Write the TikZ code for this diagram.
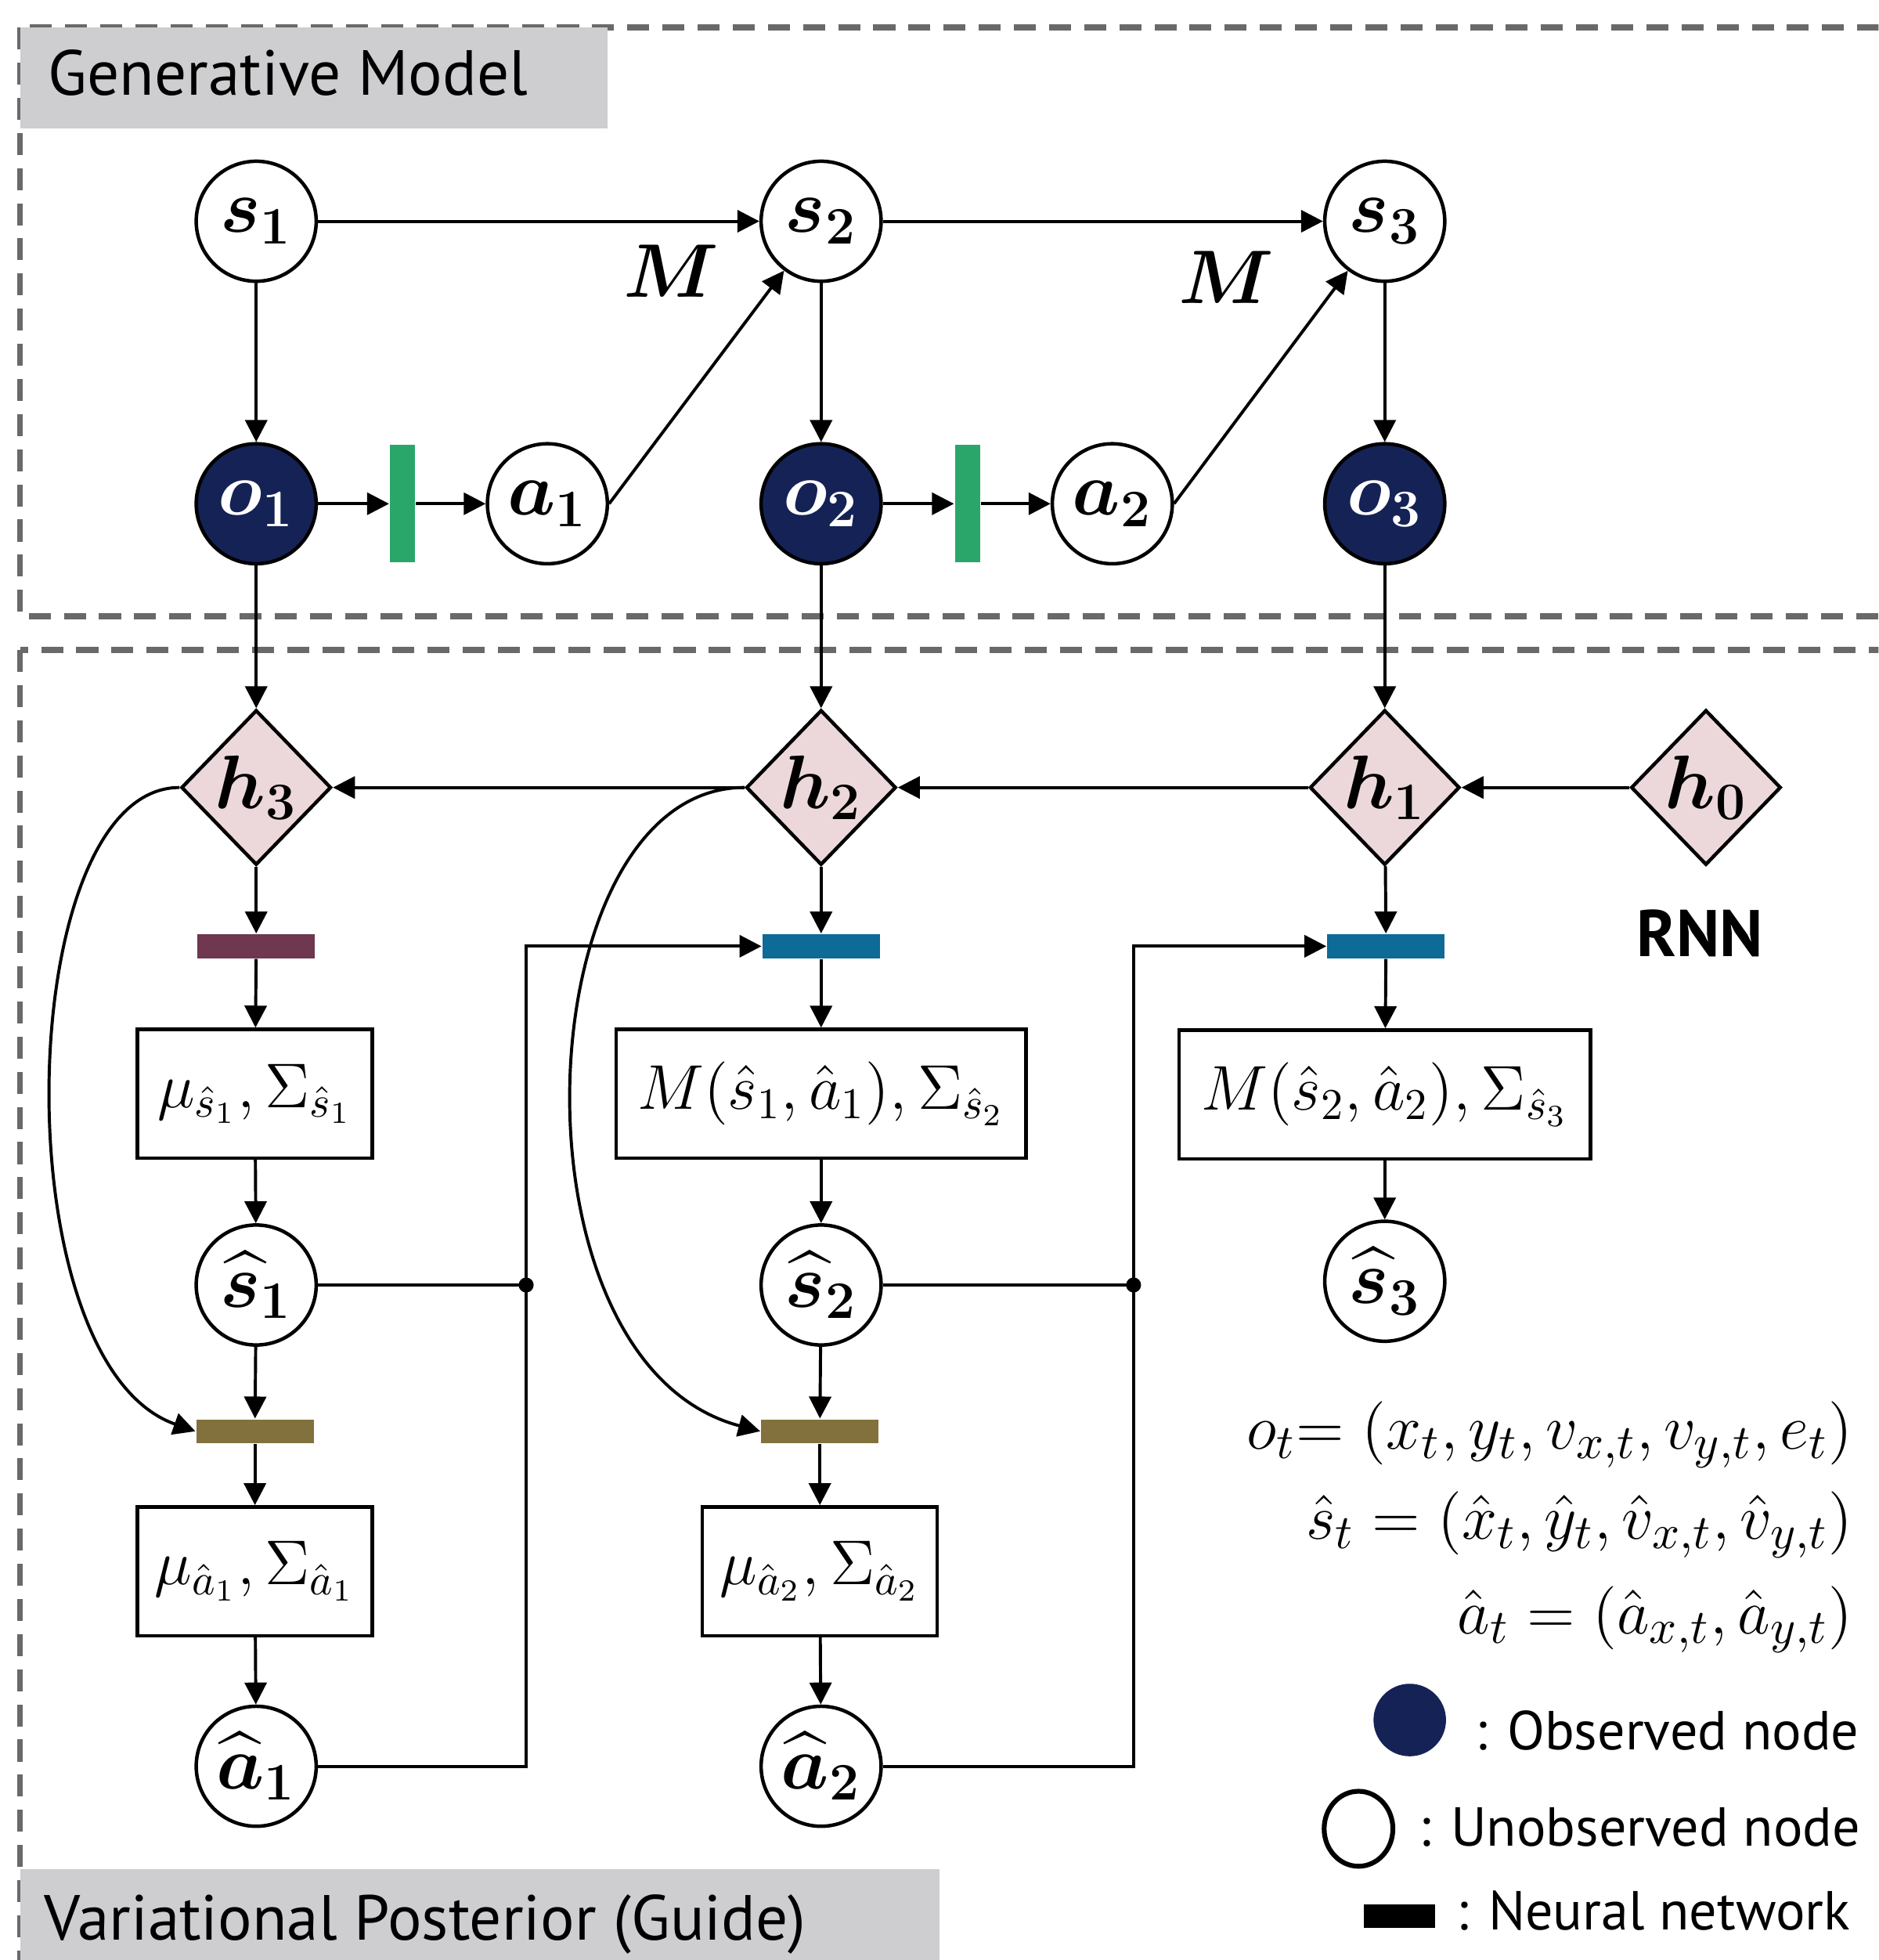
\documentclass[tikz,border=0pt]{standalone}
\usepackage[no-math]{fontspec}
\setmainfont{PT Sans}
\usepackage{amsmath}
\usepackage{bm}
\usetikzlibrary{shapes.geometric,arrows.meta}
\definecolor{obsnavy}{RGB}{21,34,85}
\definecolor{nngreen}{RGB}{43,166,106}
\definecolor{rnnpink}{RGB}{236,216,218}
\definecolor{nnmaroon}{RGB}{111,55,80}
\definecolor{nnblue}{RGB}{14,106,150}
\definecolor{nnolive}{RGB}{131,113,61}
\definecolor{titlegrey}{RGB}{206,205,207}
\definecolor{framegrey}{RGB}{105,105,105}
\begin{document}
\begin{tikzpicture}[x=1cm,y=-1cm,
  var/.style={circle,draw,line width=0.8pt,minimum size=0.96cm,inner sep=0pt,font=\fontsize{17}{17}\selectfont},
  obs/.style={var,fill=obsnavy,text=white},
  rnn/.style={diamond,draw,line width=0.8pt,fill=rnnpink,minimum width=1.2cm,minimum height=1.24cm,inner sep=0pt,font=\fontsize{17}{17}\selectfont},
  nnbar/.style={rectangle,inner sep=0pt,minimum width=0.94cm,minimum height=0.19cm},
  dist/.style={rectangle,draw,line width=0.8pt,minimum height=1.03cm,inner sep=2pt,font=\fontsize{14}{15}\selectfont},
  arr/.style={-{Triangle[length=5pt,width=5pt]},line width=0.7pt},
  frame/.style={draw=framegrey,line width=1.4pt,dash pattern=on 5pt off 3pt},
  legtext/.style={anchor=base west,inner sep=0pt,font=\fontsize{12.5}{13}\selectfont},
  legmath/.style={anchor=base east,inner sep=0pt,font=\fontsize{15}{16}\selectfont},
]
\useasboundingbox (0,0) rectangle (15.03,15.68);
\clip (0,0) rectangle (15.03,15.68);
% Panels
\draw[frame] (0.16,0.22) rectangle (15.4,4.93);
\draw[frame] (0.16,5.20) rectangle (15.4,16.0);
\fill[titlegrey] (0.16,0.22) rectangle (4.86,1.03);
\node[anchor=base west,inner sep=0pt,font=\fontsize{14.5}{15}\selectfont] (gentitle) at (0.38,0.76) {Generative Model};
\fill[titlegrey] (0.16,14.95) rectangle (7.52,15.8);
\node[anchor=base west,inner sep=0pt,font=\fontsize{14.5}{15}\selectfont] (guidetitle) at (0.35,15.52) {Variational Posterior (Guide)};
% Generative model
\node[var] (s1) at (2.05,1.77) {$\bm{s_1}$};
\node[var] (s2) at (6.57,1.77) {$\bm{s_2}$};
\node[var] (s3) at (11.08,1.77) {$\bm{s_3}$};
\node[obs] (o1) at (2.05,4.03) {$\bm{o_1}$};
\node[obs] (o2) at (6.57,4.03) {$\bm{o_2}$};
\node[obs] (o3) at (11.08,4.03) {$\bm{o_3}$};
\node[nnbar,fill=nngreen,minimum width=0.2cm,minimum height=0.94cm] (nno1) at (3.22,4.03) {};
\node[nnbar,fill=nngreen,minimum width=0.2cm,minimum height=0.94cm] (nno2) at (7.74,4.03) {};
\node[var] (a1) at (4.38,4.03) {$\bm{a_1}$};
\node[var] (a2) at (8.90,4.03) {$\bm{a_2}$};
\node[anchor=base,font=\fontsize{17}{17}\selectfont] (m1) at (5.37,2.38) {$\bm{M}$};
\node[anchor=base,font=\fontsize{17}{17}\selectfont] (m2) at (9.81,2.43) {$\bm{M}$};
\draw[arr] (s1) -- (s2);
\draw[arr] (s2) -- (s3);
\draw[arr] (s1) -- (o1);
\draw[arr] (s2) -- (o2);
\draw[arr] (s3) -- (o3);
\draw[arr] (o1) -- (nno1);
\draw[arr] (nno1) -- (a1);
\draw[arr] (o2) -- (nno2);
\draw[arr] (nno2) -- (a2);
\draw[arr] (a1.east) -- (s2);
\draw[arr] (a2.east) -- (s3);
% RNN
\node[rnn] (h3) at (2.05,6.30) {$\bm{h_3}$};
\node[rnn] (h2) at (6.57,6.30) {$\bm{h_2}$};
\node[rnn] (h1) at (11.08,6.30) {$\bm{h_1}$};
\node[rnn] (h0) at (13.65,6.30) {$\bm{h_0}$};
\node[anchor=base,font=\fontsize{15}{16}\selectfont\bfseries] (rnnlabel) at (13.60,7.65) {RNN};
\draw[arr] (o1) -- (h3);
\draw[arr] (o2) -- (h2);
\draw[arr] (o3) -- (h1);
\draw[arr] (h0) -- (h1);
\draw[arr] (h1) -- (h2);
\draw[arr] (h2) -- (h3);
% Guide
\node[nnbar,fill=nnmaroon] (nnh1) at (2.05,7.57) {};
\node[nnbar,fill=nnblue] (nnh2) at (6.57,7.57) {};
\node[nnbar,fill=nnblue] (nnh3) at (11.09,7.57) {};
\node[dist,minimum width=1.88cm] (mus1) at (2.04,8.75) {$\mu_{\hat{s}_1},\Sigma_{\hat{s}_1}$};
\node[dist,minimum width=3.28cm] (mus2) at (6.57,8.75) {$M(\hat{s}_1,\hat{a}_1),\Sigma_{\hat{s}_2}$};
\node[dist,minimum width=3.29cm] (mus3) at (11.08,8.755) {$M(\hat{s}_2,\hat{a}_2),\Sigma_{\hat{s}_3}$};
\node[var] (shat1) at (2.05,10.28) {$\bm{\widehat{s}_1}$};
\node[var] (shat2) at (6.57,10.28) {$\bm{\widehat{s}_2}$};
\node[var] (shat3) at (11.08,10.25) {$\bm{\widehat{s}_3}$};
\node[nnbar,fill=nnolive] (nna1) at (2.04,11.45) {};
\node[nnbar,fill=nnolive] (nna2) at (6.56,11.45) {};
\node[dist,minimum width=1.88cm] (mua1) at (2.04,12.57) {$\mu_{\hat{a}_1},\Sigma_{\hat{a}_1}$};
\node[dist,minimum width=1.88cm] (mua2) at (6.56,12.57) {$\mu_{\hat{a}_2},\Sigma_{\hat{a}_2}$};
\node[var] (ahat1) at (2.05,14.13) {$\bm{\widehat{a}_1}$};
\node[var] (ahat2) at (6.57,14.13) {$\bm{\widehat{a}_2}$};
\coordinate (j1) at (4.21,10.28);
\coordinate (j2) at (9.07,10.28);
\draw[arr] (h3) -- (nnh1);
\draw[arr] (nnh1) -- (mus1);
\draw[arr] (mus1) -- (shat1);
\draw[arr] (shat1) -- (nna1);
\draw[arr] (nna1) -- (mua1);
\draw[arr] (mua1) -- (ahat1);
\draw[arr] (h2) -- (nnh2);
\draw[arr] (nnh2) -- (mus2);
\draw[arr] (mus2) -- (shat2);
\draw[arr] (shat2) -- (nna2);
\draw[arr] (nna2) -- (mua2);
\draw[arr] (mua2) -- (ahat2);
\draw[arr] (h1) -- (nnh3);
\draw[arr] (nnh3) -- (mus3);
\draw[arr] (mus3) -- (shat3);
\draw[arr] (h3.west) .. controls (0.10,6.30) and (0.00,10.90) .. (nna1.west);
\draw[arr] (h2.west) .. controls (4.20,6.30) and (4.00,10.90) .. (nna2.west);
\draw[line width=0.7pt] (shat1) -- (j1);
\draw[line width=0.7pt] (shat2) -- (j2);
\draw[arr] (ahat1) -| (j1) |- (nnh2);
\draw[arr] (ahat2) -| (j2) |- (nnh3);
\fill (j1) circle (0.06);
\fill (j2) circle (0.06);
% Legend
\node[legmath] (eqo) at (14.83,11.59) {$o_t{=}\;(x_t,y_t,v_{x,t},v_{y,t},e_t)$};
\node[legmath] (eqs) at (14.83,12.31) {$\hat{s}_t=(\hat{x}_t,\hat{y}_t,\hat{v}_{x,t},\hat{v}_{y,t})$};
\node[legmath] (eqa) at (14.83,13.07) {$\hat{a}_t=(\hat{a}_{x,t},\hat{a}_{y,t})$};
\node[circle,fill=obsnavy,minimum size=0.58cm,inner sep=0pt] (legobs) at (11.28,13.76) {};
\node[legtext] (legobstxt) at (11.80,14.00) {: Observed node};
\node[ellipse,draw,line width=1.1pt,minimum width=0.55cm,minimum height=0.60cm,inner sep=0pt] (legunobs) at (10.87,14.63) {};
\node[legtext] (legunobstxt) at (11.35,14.77) {: Unobserved node};
\node[nnbar,fill=black,minimum width=0.57cm] (legnn) at (11.20,15.33) {};
\node[legtext] (legnntxt) at (11.65,15.44) {: Neural network};
\end{tikzpicture}
\end{document}
